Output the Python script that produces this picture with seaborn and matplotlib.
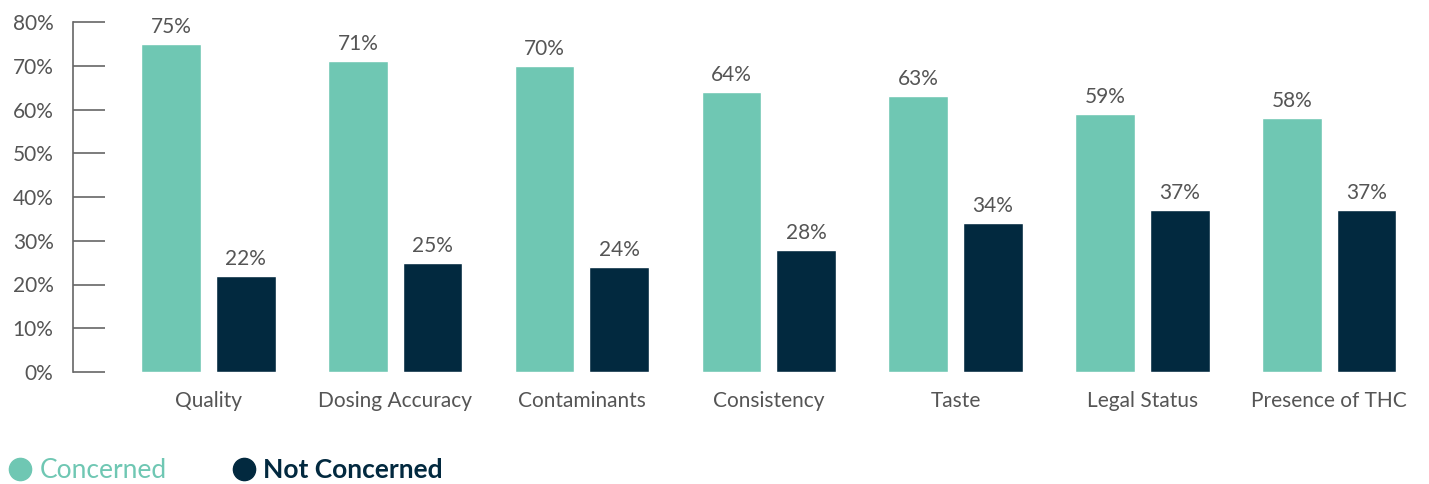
import pandas as pd
import matplotlib
matplotlib.use("Agg")
from matplotlib import pyplot as plt
from matplotlib.lines import Line2D
import matplotlib.ticker as mtick
import seaborn as sns

categories = ["Quality", "Dosing Accuracy", "Contaminants", "Consistency",
              "Taste", "Legal Status", "Presence of THC"]
concerned = [75, 71, 70, 64, 63, 59, 58]
not_concerned = [22, 25, 24, 28, 34, 37, 37]
series = ["Concerned", "Not Concerned"]
colors = ["#6FC7B3", "#02293F"]

df = pd.DataFrame({
    "category": categories * 2,
    "value": concerned + not_concerned,
    "series": [series[0]] * len(categories) + [series[1]] * len(categories),
})

sns.set_style("white")
plt.rcParams["font.family"] = ["Lato", "DejaVu Sans"]
gray = "#555555"

fig = plt.figure(figsize=(14.29, 4.84), dpi=100)
ax = fig.add_axes([73 / 1429, 1 - 372 / 484, 1 - 73 / 1429, 350 / 484])

sns.barplot(data=df, x="category", y="value", hue="series",
            palette=colors, width=0.8, gap=0.2, legend=False,
            saturation=1, ax=ax)

for cont in ax.containers:
    ax.bar_label(cont, fmt="%d%%", padding=5, fontsize=15, color=gray)

ax.set_ylim(0, 80)
ax.set_xlim(-0.725, 6.535)
ax.set_yticks(range(0, 81, 10))
ax.yaxis.set_major_formatter(mtick.PercentFormatter(100, decimals=0))
ax.tick_params(axis="y", left=True, direction="in", length=23, width=1.2,
               color="#666666", labelsize=15, labelcolor=gray, pad=14)
ax.tick_params(axis="x", bottom=False, length=0, labelsize=15,
               labelcolor=gray, pad=14)
ax.set_xlabel("")
ax.set_ylabel("")
for side in ["top", "right", "bottom"]:
    ax.spines[side].set_visible(False)
ax.spines["left"].set_color("#666666")
ax.spines["left"].set_linewidth(1.2)

handles = [Line2D([], [], marker="o", linestyle="", markersize=16, color=c)
           for c in colors]
leg = fig.legend(handles, series, loc="lower left", bbox_to_anchor=(-0.008, -0.036),
                 ncol=2, frameon=False, fontsize=19, handletextpad=0.25,
                 columnspacing=2.4, handlelength=1.0, borderaxespad=0.3)
for txt, c in zip(leg.get_texts(), colors):
    txt.set_color(c)
leg.get_texts()[1].set_fontweight("bold")

fig.savefig("out.png", dpi=100)
